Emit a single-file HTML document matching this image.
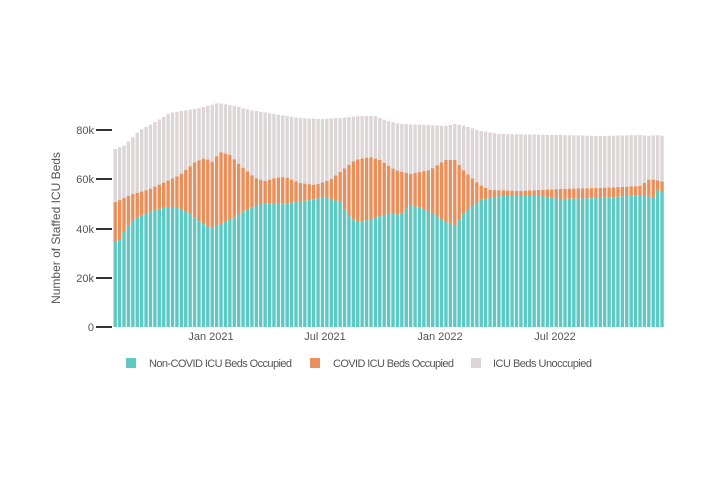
<!DOCTYPE html>
<html><head><meta charset="utf-8"><style>
body{margin:0;background:#fff;width:720px;height:480px;overflow:hidden;font-family:"Liberation Sans",sans-serif}
</style></head><body>
<svg id="s" width="720" height="480" xmlns="http://www.w3.org/2000/svg" font-family="'Liberation Sans',sans-serif">
<g id="bars"></g>
<g stroke="#333" stroke-width="2">
<line x1="96" y1="327" x2="112" y2="327"/><line x1="96" y1="278" x2="112" y2="278"/>
<line x1="96" y1="229" x2="112" y2="229"/><line x1="96" y1="179" x2="112" y2="179"/>
<line x1="96" y1="130" x2="112" y2="130"/>
</g>
<g font-size="11" fill="#555" text-anchor="end">
<text x="94" y="331">0</text><text x="94" y="282">20k</text><text x="94" y="233">40k</text>
<text x="94" y="183">60k</text><text x="94" y="134">80k</text>
</g>
<g font-size="11" fill="#555" text-anchor="middle">
<text x="211" y="340">Jan 2021</text><text x="325" y="340">Jul 2021</text>
<text x="440" y="340">Jan 2022</text><text x="555" y="340">Jul 2022</text>
</g>
<text transform="translate(60,228) rotate(-90)" font-size="12" fill="#555" text-anchor="middle">Number of Staffed ICU Beds</text>
<rect x="126" y="358" width="10" height="10" fill="#5ec8c3"/>
<rect x="310" y="358" width="10" height="10" fill="#e8905c"/>
<rect x="471" y="358" width="10" height="10" fill="#ddd6d7"/>
<g font-size="11" fill="#555">
<text x="149" y="367" textLength="143">Non-COVID ICU Beds Occupied</text>
<text x="333" y="367" textLength="121">COVID ICU Beds Occupied</text>
<text x="493" y="367" textLength="99">ICU Beds Unoccupied</text>
</g>
</svg>
<script>
var T=[[113,150],[125,145],[130,140],[140,130],[150,125],[165,116],[170,113],[200,108],[218,103],[235,106],[250,110],[280,115],[300,118],[320,119],[340,118],[360,116],[375,116],[385,120],[400,124],[430,125],[445,126],[455,124],[465,126],[480,131],[500,134],[560,135],[600,136],[640,135],[650,136],[655,135],[664,136]];
var O=[[113,203],[120,200],[130,195],[140,192],[150,189],[165,182],[180,175],[195,162],[205,158],[212,162],[220,152],[230,155],[240,165],[255,178],[265,181],[275,178],[285,177],[300,183],[315,185],[330,180],[340,172],[355,160],[370,157],[380,160],[395,170],[410,174],[420,172],[430,170],[445,160],[455,160],[465,172],[480,185],[490,190],[520,191],[560,189],[600,188],[640,186],[650,179],[660,181],[664,182]];
var G=[[113,243],[120,240],[125,230],[135,218],[150,212],[165,207],[175,207],[190,214],[200,222],[210,228],[220,224],[235,217],[245,210],[260,204],[290,203],[310,200],[325,197],[340,202],[350,218],[360,222],[375,218],[390,213],[400,215],[410,205],[420,208],[432,213],[445,222],[455,225],[465,212],[480,200],[500,196],[540,196],[560,199],[600,198],[640,195],[648,196],[652,200],[656,190],[664,192]];
function f(p,x){for(var i=1;i<p.length;i++){if(x<=p[i][0]){var a=p[i-1],b=p[i];return a[1]+(b[1]-a[1])*(x-a[0])/(b[0]-a[0]);}}return p[p.length-1][1];}
var h='',pitch=4.41;
for(var i=0;i<125;i++){var x=113.5+i*pitch,c=x+1.7;
var t=f(T,c),o=f(O,c),g=f(G,c),w=3.4;
h+='<rect x="'+x+'" y="'+t+'" width="'+w+'" height="'+(o-t)+'" fill="#ddd6d7"/>';
h+='<rect x="'+x+'" y="'+o+'" width="'+w+'" height="'+(g-o)+'" fill="#e8905c"/>';
h+='<rect x="'+x+'" y="'+g+'" width="'+w+'" height="'+(327-g)+'" fill="#5ec8c3"/>';}
document.getElementById('bars').innerHTML=h;
</script>
</body></html>
